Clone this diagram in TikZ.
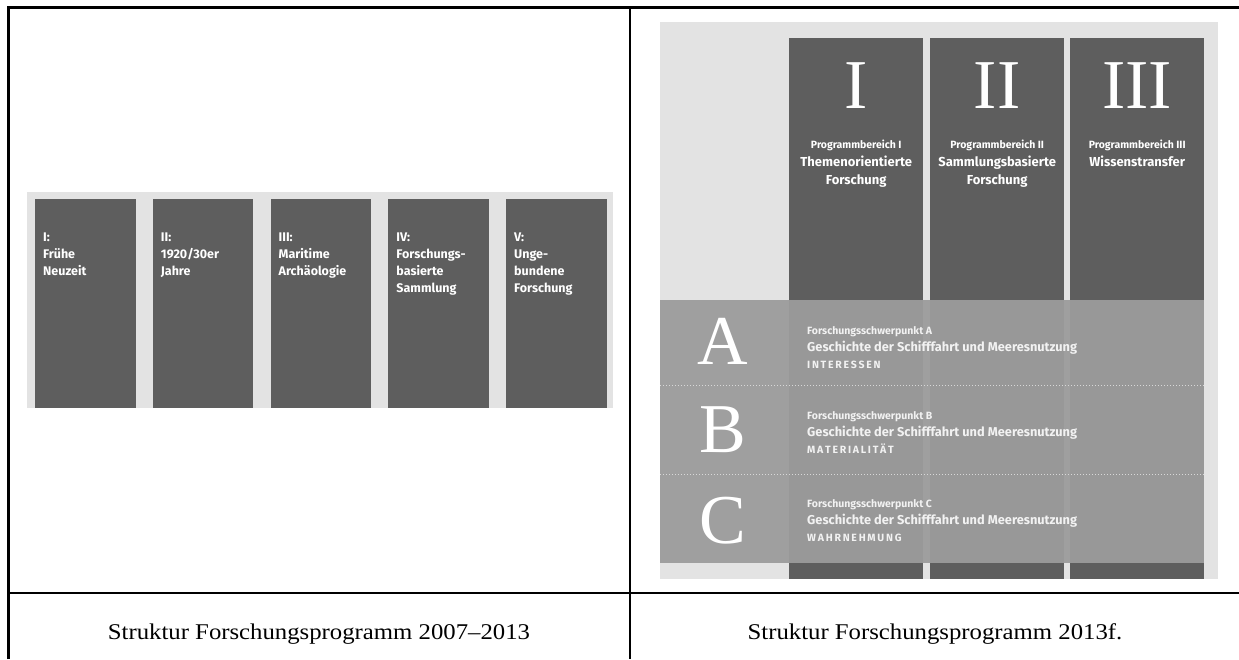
\documentclass[tikz,border=0pt]{standalone}
\usepackage{fontspec}
\setmainfont{Liberation Serif}
\newfontfamily\panelfont{Fira Sans}
\newfontfamily\bignumfont{Liberation Serif}
\newfontfamily\capfont[FakeStretch=1.1]{Liberation Serif}
\usetikzlibrary{positioning}

\definecolor{panelbg}{HTML}{E3E3E3}
\definecolor{boxdark}{HTML}{5E5E5E}
\definecolor{bandgrey}{HTML}{9C9C9C}
\definecolor{bandtext}{HTML}{F2F2F2}

\newcommand{\sublabel}{\fontsize{10.5}{17}\selectfont}
\newcommand{\spaced}{\fontsize{10.5}{17}\selectfont}

\begin{document}
\begin{tikzpicture}[x=1pt,y=-1pt,
                    epoch/.style={fill=boxdark, anchor=north west, inner sep=0pt, minimum width=100.5pt, minimum height=209pt},
                    epochtext/.style={anchor=north west, align=left, inner sep=0pt, text=white, font=\panelfont\bfseries\fontsize{12.5}{17}\selectfont},
                    area/.style={fill=boxdark, anchor=north west, inner sep=0pt, minimum width=134pt, minimum height=541pt},
                    numeral/.style={text=white, inner sep=0pt, font=\bignumfont\fontsize{70}{70}\selectfont},
                    areatext/.style={anchor=north, align=center, inner sep=0pt, text=white, font=\panelfont\bfseries\fontsize{13}{18}\selectfont},
                    focusband/.style={fill=bandgrey, fill opacity=0.95, anchor=north west, inner sep=0pt, minimum width=544pt, minimum height=263pt},
                    focustext/.style={anchor=west, align=left, inner sep=0pt, text=bandtext, font=\panelfont\bfseries\fontsize{12.8}{17}\selectfont},
                    caption/.style={anchor=base, font=\capfont\fontsize{22.5}{26}\selectfont}]

	\useasboundingbox (0,0) rectangle (1239,659);

	% left panel: five research fields
	\fill[panelbg] (27,192) rectangle (613,408);
	
	\node[epoch] (epI) at (35,199) {};
	\node[epoch] (epII) at (152.75,199) {};
	\node[epoch] (epIII) at (270.5,199) {};
	\node[epoch] (epIV) at (388.25,199) {};
	\node[epoch] (epV) at (506,199) {};

	\node[epochtext] at ([shift={(8,34)}]epI.north west) {I:\\Frühe\\Neuzeit};
	\node[epochtext] at ([shift={(8,34)}]epII.north west) {II:\\1920/30er\\Jahre};
	\node[epochtext] at ([shift={(8,34)}]epIII.north west) {III:\\Maritime\\Archäologie};
	\node[epochtext] at ([shift={(8,34)}]epIV.north west) {IV:\\Forschungs-\\basierte\\Sammlung};
	\node[epochtext] at ([shift={(8,34)}]epV.north west) {V:\\Unge-\\bundene\\Forschung};

	% right panel: programme areas and focus bands
	\fill[panelbg] (660,22) rectangle (1218,579);
	
	\node[area] (progI) at (789,38) {};
	\node[area] (progII) at (930,38) {};
	\node[area] (progIII) at (1070,38) {};

	\node[numeral] at ([yshift=-48pt]progI.north) {I};
	\node[numeral] at ([yshift=-48pt]progII.north) {II};
	\node[numeral] at ([yshift=-48pt]progIII.north) {III};

	\node[areatext] at ([yshift=-102pt]progI.north) {{\sublabel Programmbereich I}\\Themenorientierte\\Forschung};
	\node[areatext] at ([yshift=-102pt]progII.north) {{\sublabel Programmbereich II}\\Sammlungsbasierte\\Forschung};
	\node[areatext] at ([yshift=-102pt]progIII.north) {{\sublabel Programmbereich III}\\Wissenstransfer};

	\node[focusband] (band) at (660,300) {};
	\draw[bandtext!70!bandgrey, dotted, line width=1pt] (660,385) -- (1204,385);
	\draw[bandtext!70!bandgrey, dotted, line width=1pt] (660,474) -- (1204,474);

	\node[numeral] (focA) at (723,341) {A};
	\node[numeral] (focB) at (723,430) {B};
	\node[numeral] (focC) at (723,521) {C};

	\node[focustext] at (807,348) {{\sublabel Forschungsschwerpunkt A}\\Geschichte der Schifffahrt und Meeresnutzung\\{\spaced I\,N\,T\,E\,R\,E\,S\,S\,E\,N}};
	\node[focustext] at (807,433) {{\sublabel Forschungsschwerpunkt B}\\Geschichte der Schifffahrt und Meeresnutzung\\{\spaced M\,A\,T\,E\,R\,I\,A\,L\,I\,T\,Ä\,T}};
	\node[focustext] at (807,521) {{\sublabel Forschungsschwerpunkt C}\\Geschichte der Schifffahrt und Meeresnutzung\\{\spaced W\,A\,H\,R\,N\,E\,H\,M\,U\,N\,G}};

	% table rules and captions
	\draw[line width=2.5pt] (8.5,659) -- (8.5,7.5) -- (1239,7.5);
	\draw[line width=2.5pt] (630,7.5) -- (630,659);
	\draw[line width=2.5pt] (8.5,593) -- (1239,593);

	\node[caption] (capOld) at (319,639) {Struktur Forschungsprogramm 2007–2013};
	\node[caption] (capNew) at (935,639) {Struktur Forschungsprogramm 2013f.};

\end{tikzpicture}
\end{document}
